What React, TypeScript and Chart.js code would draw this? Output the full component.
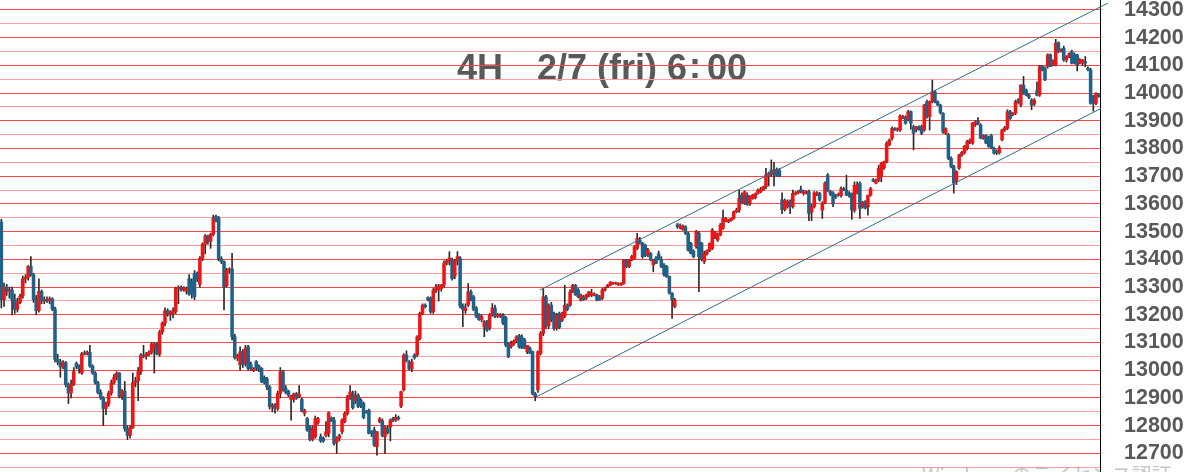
import React, { useEffect, useRef } from 'react';
import { Chart, registerables } from 'chart.js';

Chart.register(...registerables);

// Candles: [open, high, low, close], 4H bars, read left to right
const seg1: number[][] = [
  [13535,13545,13225,13255],[13255,13315,13230,13300],[13300,13310,13270,13285],[13285,13300,13260,13290],
  [13290,13300,13200,13255],[13255,13275,13205,13220],[13220,13260,13210,13245],[13245,13275,13240,13268],
  [13268,13340,13260,13330],[13330,13345,13315,13335],[13335,13378,13325,13375],[13375,13410,13340,13345],
  [13345,13350,13245,13255],[13255,13270,13200,13215],[13215,13330,13210,13285],[13285,13290,13240,13250],
  [13250,13265,13240,13255],[13255,13265,13245,13250],[13250,13265,13240,13258],[13258,13262,13215,13222],
  [13222,13228,13030,13040],[13040,13058,13020,13030],[13030,13040,12975,13012],[13012,13035,13005,13028],
  [13028,13032,12940,12948],[12948,12955,12880,12918],[12918,12965,12900,12950],[12950,13010,12945,12995],
  [13025,13030,13005,13012],[13012,13020,12990,13005],[12990,13065,12985,13060],[13062,13070,13055,13058],
  [13058,13070,13055,13065],[13065,13090,13010,13015],[13015,13020,12985,12990],[12990,12995,12950,12955],
  [12955,12960,12915,12920],[12920,12930,12895,12900],[12900,12905,12800,12862],[12862,12885,12840,12880],
  [12880,12925,12870,12918],[12918,12965,12910,12955],[12955,12985,12950,12975],[12975,12995,12965,12990],
  [12990,12992,12900,12905],[12905,12930,12895,12925],[12925,12960,12780,12790],[12790,12800,12750,12765],
  [12765,12800,12755,12792],[12792,12990,12790,12955],[12955,12975,12940,12962],[12962,13010,12890,12995],
  [12995,13060,12985,13055],[13055,13090,13045,13050],[13050,13065,13040,13058],[13058,13070,13052,13064],
  [13064,13100,13058,13095],[13080,13100,12990,13095],[13095,13100,13055,13058],[13058,13145,13050,13138],
  [13138,13175,13130,13170],[13170,13225,13160,13215],[13215,13222,13195,13203],[13203,13215,13180,13210],
  [13205,13225,13190,13215],[13212,13300,13205,13295],[13295,13305,13240,13298],[13298,13305,13285,13290],
  [13290,13302,13285,13298],[13285,13300,13275,13295],[13330,13345,13270,13275],[13320,13330,13260,13275],
  [13350,13360,13255,13265],[13350,13355,13320,13330],[13310,13410,13300,13404],[13404,13460,13395,13455],
  [13455,13490,13420,13485],[13485,13488,13455,13465],[13465,13495,13440,13490],[13490,13560,13485,13550],
  [13555,13560,13535,13540],[13550,13555,13395,13402],
];

const seg2: number[][] = [
  [13402,13410,13385,13392],[13392,13395,13218,13302],[13305,13368,13300,13362],[13362,13370,13350,13365],
  [13365,13422,13110,13121],[13121,13130,13040,13045],[13045,13058,13035,13052],[13020,13085,13000,13067],
  [13067,13075,13010,13020],[13025,13090,13015,13080],[13085,13090,13000,13007],[13020,13030,13000,13005],
  [13000,13010,12995,13006],[13031,13035,13000,13007],[13015,13020,12995,13000],[13007,13010,12955,12960],
  [12975,12980,12950,12955],[12970,12975,12930,12940],[12940,12945,12860,12868],[12868,12880,12850,12875],
  [12875,12880,12845,12862],[12862,12925,12855,12917],[12917,13010,12900,12995],[12995,13000,12925,12930],
  [12935,12945,12915,12920],[12925,12928,12905,12910],[12895,12910,12820,12905],[12895,12918,12885,12915],
  [12915,12920,12895,12900],[12905,12945,12900,12915],[12895,12900,12850,12852],[12845,12860,12835,12855],
  [12826,12830,12780,12784],[12796,12800,12745,12750],[12750,12800,12745,12790],[12760,12835,12755,12826],
  [12810,12830,12805,12826],[12760,12770,12740,12745],[12755,12760,12740,12745],[12765,12815,12760,12778],
  [12772,12850,12760,12847],[12828,12832,12815,12815],[12820,12830,12730,12736],[12740,12760,12700,12755],
  [12755,12770,12745,12765],[12778,12825,12770,12820],[12815,12850,12810,12845],[12844,12910,12838,12905],
  [12900,12945,12895,12922],[12915,12925,12860,12865],[12890,12925,12880,12910],[12910,12915,12865,12870],
  [12892,12898,12865,12870],[12880,12885,12825,12830],[12850,12855,12845,12848],[12856,12860,12770,12772],
  [12780,12782,12760,12772],[12785,12795,12725,12730],[12724,12780,12694,12778],[12815,12830,12810,12825],
  [12818,12825,12760,12765],[12760,12800,12700,12795],[12790,12800,12770,12775],[12795,12825,12745,12820],
  [12825,12830,12815,12820],[12820,12840,12815,12830],[12830,12835,12820,12825],[12870,12925,12865,12923],
  [12929,13060,12925,13055],[13055,13070,13030,13035],[13030,13035,13000,13005],[13005,13040,12995,13030],
  [13055,13060,13040,13045],[13055,13125,13050,13121],[13115,13210,13110,13205],[13205,13240,13200,13235],
  [13235,13240,13225,13230],[13262,13265,13250,13255],[13260,13265,13205,13211],[13211,13295,13205,13289],
  [13289,13310,13280,13300],[13290,13310,13250,13305],
];

const seg3: number[][] = [
  [13295,13310,13285,13307],[13307,13395,13300,13386],[13386,13400,13380,13395],[13395,13428,13380,13405],
  [13398,13405,13325,13331],[13340,13400,13330,13395],[13395,13428,13380,13410],[13405,13410,13225,13232],
  [13232,13240,13157,13220],[13215,13240,13205,13225],[13235,13313,13230,13283],[13283,13290,13250,13255],
  [13265,13270,13215,13220],[13225,13230,13190,13195],[13200,13205,13180,13183],[13183,13200,13175,13194],
  [13157,13180,13121,13175],[13175,13180,13140,13145],[13151,13205,13145,13199],[13199,13241,13195,13225],
  [13225,13235,13190,13195],[13195,13205,13190,13200],[13196,13205,13190,13202],[13200,13205,13165,13170],
  [13190,13195,13085,13091],[13097,13100,13045,13049],[13085,13105,13080,13097],[13095,13110,13090,13105],
  [13107,13125,13100,13120],[13125,13130,13080,13085],[13120,13128,13078,13080],[13110,13115,13078,13080],
  [13067,13090,13060,13090],[13080,13085,13060,13062],[13067,13070,12911,12915],[12915,12920,12890,12905],
  [12929,13070,12920,13067],[13061,13140,13055,13133],[13133,13295,13125,13265],[13265,13270,13150,13160],
  [13160,13240,13150,13235],[13235,13245,13175,13181],[13205,13210,13145,13151],[13151,13205,13145,13199],
  [13205,13210,13150,13155],[13180,13210,13175,13205],[13195,13307,13190,13235],[13235,13240,13215,13220],
  [13235,13290,13230,13283],[13283,13310,13280,13307],[13307,13310,13270,13272],[13290,13295,13262,13265],
  [13253,13275,13250,13271],[13265,13270,13252,13254],[13260,13275,13255,13271],[13270,13285,13265,13283],
  [13270,13292,13265,13277],[13270,13280,13268,13275],[13272,13275,13250,13253],[13265,13270,13252,13254],
  [13260,13295,13255,13290],[13290,13300,13285,13295],[13300,13310,13298,13307],[13307,13320,13305,13318],
  [13312,13318,13310,13316],[13312,13318,13310,13316],[13308,13316,13306,13313],[13308,13316,13306,13313],
  [13313,13400,13310,13398],[13398,13400,13370,13374],[13374,13400,13370,13398],[13398,13415,13395,13410],
  [13404,13450,13400,13446],[13440,13494,13435,13476],[13470,13480,13455,13458],[13458,13462,13404,13410],
  [13452,13455,13410,13414],[13416,13440,13410,13434],[13422,13425,13395,13398],[13380,13400,13355,13398],
  [13404,13410,13385,13386],[13420,13430,13398,13400],
];

const seg4: number[][] = [
  [13400,13410,13370,13374],[13380,13385,13340,13345],[13374,13378,13335,13338],[13338,13340,13275,13278],
  [13278,13280,13187,13254],[13230,13260,13225,13254],[13525,13530,13512,13518],[13515,13528,13510,13522],
  [13508,13525,13505,13520],[13518,13522,13490,13494],[13494,13498,13430,13434],[13458,13462,13420,13422],
  [13430,13435,13405,13410],[13446,13505,13440,13500],[13494,13500,13284,13410],[13458,13462,13395,13400],
  [13392,13430,13385,13422],[13420,13435,13415,13432],[13432,13460,13428,13458],[13440,13512,13435,13506],
  [13482,13500,13475,13498],[13470,13495,13465,13488],[13488,13530,13485,13524],[13512,13578,13508,13548],
  [13538,13552,13535,13548],[13536,13545,13532,13542],[13540,13550,13538,13548],[13548,13575,13545,13572],
  [13572,13585,13568,13578],[13578,13650,13570,13620],[13632,13640,13600,13602],[13602,13648,13598,13644],
  [13632,13640,13595,13598],[13600,13630,13595,13626],[13620,13635,13617,13632],[13622,13640,13618,13638],
  [13638,13655,13635,13650],[13644,13660,13640,13653],[13650,13665,13648,13662],[13663,13729,13655,13705],
  [13700,13715,13665,13710],[13722,13759,13700,13705],[13710,13750,13665,13722],[13725,13730,13700,13703],
  [13722,13728,13698,13700],[13615,13640,13565,13580],[13580,13618,13575,13613],[13590,13615,13585,13610],
  [13610,13615,13565,13590],[13590,13650,13585,13638],[13636,13645,13632,13640],[13640,13648,13636,13645],
  [13652,13665,13640,13645],[13638,13650,13632,13645],[13640,13648,13636,13645],[13644,13650,13540,13566],
  [13570,13600,13540,13590],[13590,13645,13585,13640],[13636,13645,13630,13640],[13638,13642,13610,13615],
  [13578,13608,13548,13602],[13605,13680,13600,13675],[13704,13710,13645,13650],[13645,13650,13630,13635],
  [13640,13645,13590,13600],[13630,13635,13620,13625],[13632,13640,13628,13636],[13630,13662,13625,13655],
  [13655,13660,13648,13650],[13650,13704,13630,13632],[13640,13645,13625,13630],[13638,13640,13545,13578],
  [13578,13680,13570,13668],[13640,13680,13636,13668],[13674,13680,13548,13584],[13590,13610,13585,13605],
  [13608,13612,13582,13585],[13590,13632,13560,13632],[13632,13660,13628,13655],[13688,13692,13680,13682],
  [13675,13690,13672,13686],[13686,13740,13680,13728],
];

const seg5: number[][] = [
  [13700,13750,13680,13747],[13730,13755,13725,13753],[13753,13825,13748,13819],[13813,13835,13810,13831],
  [13837,13878,13830,13873],[13873,13876,13865,13867],[13867,13875,13862,13870],[13867,13922,13862,13918],
  [13912,13920,13908,13916],[13913,13918,13888,13891],[13905,13938,13900,13933],[13933,13936,13870,13891],
  [13879,13885,13795,13855],[13867,13880,13860,13879],[13879,13882,13866,13868],[13879,13885,13850,13855],
  [13867,13960,13862,13957],[13969,13975,13910,13915],[13915,13972,13867,13969],[13969,14047,13965,14005],
  [14005,14010,13965,13969],[13969,13972,13955,13957],[13957,13960,13925,13930],[13927,13930,13855,13860],
  [13855,13875,13850,13872],[13849,13855,13760,13765],[13765,13770,13730,13735],[13735,13740,13639,13675],
  [13681,13720,13670,13717],[13729,13780,13725,13777],[13777,13790,13772,13786],[13786,13812,13780,13808],
  [13800,13830,13795,13825],[13825,13835,13818,13830],[13819,13895,13815,13891],[13885,13900,13880,13895],
  [13898,13912,13885,13888],[13885,13890,13835,13837],[13837,13850,13833,13847],[13847,13850,13818,13820],
  [13840,13845,13805,13807],[13847,13852,13800,13803],[13801,13805,13780,13783],[13790,13795,13778,13785],
  [13785,13810,13780,13803],[13831,13870,13828,13867],[13867,13880,13862,13875],[13873,13940,13868,13933],
  [13933,13938,13905,13909],[13922,13930,13918,13927],[13927,13975,13922,13969],[13975,13980,13963,13966],
  [13957,14030,13950,14029],[14029,14060,13995,13999],[14010,14015,13990,13993],[13993,13998,13980,13985],
  [13975,13980,13940,13957],[13960,13980,13955,13975],[14008,14040,13990,13993],[13993,14100,13988,14096],
  [14096,14100,14080,14084],[14090,14095,14045,14048],[14096,14142,14090,14138],[14138,14142,14095,14096],
  [14102,14120,14098,14114],[14102,14194,14098,14180],[14182,14185,14145,14150],[14150,14160,14148,14156],
  [14162,14170,14115,14120],[14120,14135,14112,14130],[14130,14145,14128,14142],[14150,14155,14105,14108],
  [14138,14145,14105,14108],[14138,14140,14080,14102],[14108,14125,14105,14120],[14108,14122,14100,14120],
  [14114,14132,14095,14108],[14090,14095,14080,14085],[14084,14090,13960,13963],[13988,13992,13935,13963],
  [13963,14002,13958,13999],[13993,13998,13985,13988],
];

const candles: number[][] = [...seg1, ...seg2, ...seg3, ...seg4, ...seg5];

const priceTicks: number[] = [
  12650, 12700, 12750, 12800, 12850, 12900, 12950, 13000, 13050, 13100, 13150, 13200,
  13250, 13300, 13350, 13400, 13450, 13500, 13550, 13600, 13650, 13700, 13750, 13800,
  13850, 13900, 13950, 14000, 14050, 14100, 14150, 14200, 14250, 14300,
];

// Trend channel anchors: x in candle index units, y in price
const upperChannel = [
  { x: 200.8, y: 13290 },
  { x: 412.5, y: 14325 },
];
const lowerChannel = [
  { x: 199.6, y: 12905 },
  { x: 409.9, y: 13945 },
];

const titleLeft = '4H';
const titleMain = '2/7 (fri) 6';
const titleColon = ':';
const titleEnd = '00';
const watermark = 'Windows のライセンス認証';

const UP = '#F01414';
const DOWN = '#1F6189';
const WICK = '#2B2B2B';
const CHANNEL = '#2F6F8F';

const overlayPlugin = {
  id: 'overlay',
  beforeDraw(chart: any) {
    const ctx = chart.ctx;
    ctx.save();
    ctx.fillStyle = '#595959';
    ctx.font = 'bold 36px "Liberation Sans", Arial, sans-serif';
    ctx.textBaseline = 'alphabetic';
    ctx.textAlign = 'left';
    ctx.fillText(titleLeft, 457, 80);
    ctx.fillText(titleMain, 537, 80);
    ctx.textAlign = 'center';
    ctx.fillText(titleColon, 695, 78);
    ctx.textAlign = 'left';
    ctx.fillText(titleEnd, 707, 80);
    ctx.restore();
  },
  afterDraw(chart: any) {
    const ctx = chart.ctx;
    ctx.save();
    ctx.fillStyle = 'rgba(150,150,150,0.55)';
    ctx.font = '20px "Noto Sans CJK JP", sans-serif';
    ctx.textBaseline = 'top';
    ctx.textAlign = 'left';
    ctx.fillText(watermark, 922, 465);
    ctx.restore();
  },
};

export default function App() {
  const ref = useRef<HTMLCanvasElement>(null);

  useEffect(() => {
    const canvas = ref.current;
    if (!canvas) return;
    const chart = new Chart(canvas, {
      type: 'bar',
      data: {
        datasets: [
          {
            type: 'line',
            data: upperChannel,
            borderColor: CHANNEL,
            borderWidth: 1,
            pointRadius: 0,
            clip: false,
            order: 0,
          } as any,
          {
            type: 'line',
            data: lowerChannel,
            borderColor: CHANNEL,
            borderWidth: 1,
            pointRadius: 0,
            clip: false,
            order: 0,
          } as any,
          {
            type: 'bar',
            data: candles.map((c, i) => ({ x: i, y: [c[0], c[3]] })),
            backgroundColor: candles.map((c) => (c[3] >= c[0] ? UP : DOWN)),
            borderWidth: 0,
            barThickness: 2.9,
            minBarLength: 1,
            grouped: false,
            order: 1,
          } as any,
          {
            type: 'bar',
            data: candles.map((c, i) => ({ x: i, y: [c[2], c[1]] })),
            backgroundColor: WICK,
            borderWidth: 0,
            barThickness: 1,
            grouped: false,
            order: 2,
          } as any,
        ],
      },
      options: {
        responsive: false,
        animation: false,
        events: [],
        layout: { padding: 0 },
        plugins: {
          legend: { display: false },
          tooltip: { enabled: false },
          title: { display: false },
        },
        scales: {
          x: {
            type: 'linear',
            min: -0.5,
            max: candles.length - 0.5,
            display: false,
            offset: false,
          },
          y: {
            type: 'linear',
            position: 'right',
            min: 12633,
            max: 14336,
            afterBuildTicks: (axis: any) => {
              axis.ticks = priceTicks.map((v) => ({ value: v }));
            },
            afterFit: (axis: any) => {
              axis.width = 87;
              axis.paddingTop = 0;
              axis.paddingBottom = 0;
            },
            grid: {
              color: (ctx: any) =>
                ctx.tick && ctx.tick.value % 100 === 0 ? '#FF4444' : '#FFA0A0',
              lineWidth: 1,
              drawTicks: false,
            },
            border: { display: true, color: '#000000', width: 1 },
            ticks: {
              autoSkip: false,
              padding: 24,
              color: '#595959',
              font: { family: '"Liberation Sans", Arial, sans-serif', size: 21.5, weight: 'bold' },
              callback: (v: any) => (Number(v) % 100 === 0 ? String(v) : ''),
            },
          },
        },
      } as any,
      plugins: [overlayPlugin],
    });
    return () => chart.destroy();
  }, []);

  return (
    <div style={{ position: 'fixed', left: 0, top: 0, width: 1187, height: 472, background: '#ffffff', overflow: 'hidden' }}>
      <canvas ref={ref} width={1187} height={472} style={{ display: 'block' }} />
    </div>
  );
}
